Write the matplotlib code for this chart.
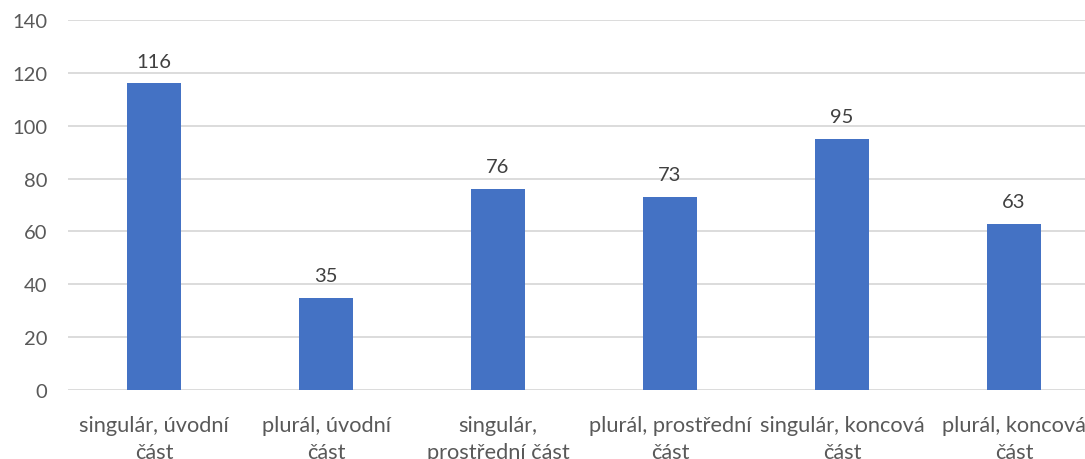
import matplotlib
matplotlib.use('Agg')
import matplotlib.pyplot as plt

categories = ['singulár, úvodní\nčást', 'plurál, úvodní\nčást', 'singulár,\nprostřední část',
              'plurál, prostřední\nčást', 'singulár, koncová\nčást', 'plurál, koncová\nčást']
values = [116, 35, 76, 73, 95, 63]
yticks = [0, 20, 40, 60, 80, 100, 120, 140]

plt.rcParams['font.family'] = ['Lato', 'DejaVu Sans']
W, H = 1085, 460
fig = plt.figure(figsize=(W / 100, H / 100), dpi=100)
ax = fig.add_axes([68 / W, 69 / H, (W - 68) / W, (391 - 21) / H])

x = list(range(len(values)))
bars = ax.bar(x, values, width=0.314, color='#4472C4', zorder=3)
for xi, v in zip(x, values):
    ax.annotate(str(v), (xi, v), xytext=(0, 10), textcoords='offset points',
                ha='center', va='bottom', fontsize=14.5, color='#404040')

ax.set_xlim(-0.5, -0.5 + (W - 68) / 172)
ax.set_ylim(0, 140)
ax.set_yticks(yticks)
ax.set_xticks(x)
ax.set_xticklabels(categories, fontsize=15.7, color='#595959', linespacing=1.42)
ax.tick_params(axis='y', labelsize=14.5, labelcolor='#595959', length=0, pad=15)
ax.tick_params(axis='x', length=0, pad=18)
ax.grid(axis='y', color='#D9D9D9', linewidth=1.3, zorder=0)
for s in ax.spines.values():
    s.set_visible(False)

fig.savefig('out.png', dpi=100)
